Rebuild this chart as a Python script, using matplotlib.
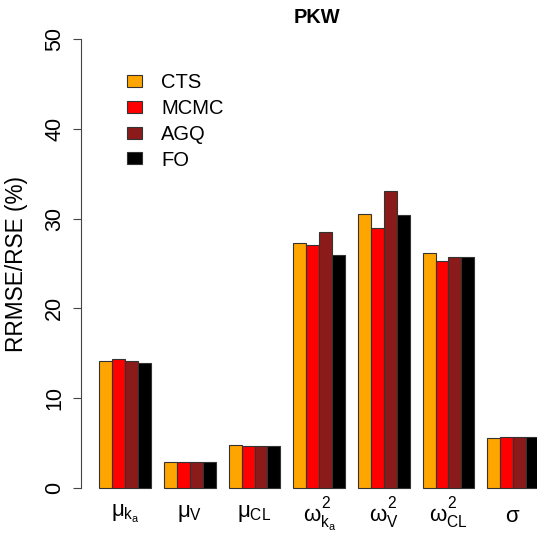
import matplotlib
matplotlib.use("Agg")
import matplotlib.pyplot as plt
import matplotlib.transforms as mtransforms
import numpy as np

try:
    import matplotlib._mathtext as _mt
    _mt.FontConstantsBase.sup1 = 1.15
except Exception:
    pass

plt.rcParams['font.family'] = ['Liberation Sans', 'DejaVu Sans']
plt.rcParams['mathtext.fontset'] = 'custom'
plt.rcParams['mathtext.rm'] = 'Liberation Sans'
plt.rcParams['mathtext.it'] = 'Liberation Sans'
plt.rcParams['mathtext.bf'] = 'Liberation Sans:bold'

# ---- data ----
parameters = [r'$\mu_{k_a}$', r'$\mu_V$', r'$\mu_{CL}$',
              r'$\omega_{k_a}^{2}$', r'$\omega_V^{2}$', r'$\omega_{CL}^{2}$', r'$\sigma$']
methods = ['CTS', 'MCMC', 'AGQ', 'FO']
cts  = [14.1, 2.85, 4.8, 27.3, 30.5, 26.2, 5.55]
mcmc = [14.35, 2.85, 4.7, 27.1, 29.0, 25.3, 5.65]
agq  = [14.1, 2.85, 4.7, 28.5, 33.1, 25.7, 5.65]
fo   = [13.9, 2.85, 4.7, 25.9, 30.4, 25.7, 5.65]
yticks = [0, 10, 20, 30, 40, 50]
title = 'PKW'
ylabel = 'RRMSE/RSE (%)'

# ---- style ----
colors = ['#FFA500', '#FF0000', '#8B1A1A', '#000000']
label_baseline_px = [517, 517, 517, 522, 522, 522, 521.5]

W, H = 537, 533
fig = plt.figure(figsize=(W / 100, H / 100), dpi=100)
ax = fig.add_axes([81 / W, (H - 506) / H, (W - 81) / W, (506 - 21) / H])

series = [cts, mcmc, agq, fo]
n_groups = len(parameters)
group_start = 1 + 5 * np.arange(n_groups)
handles = []
for j, vals in enumerate(series):
    bc = ax.bar(group_start + j, vals, width=1.0, align='edge',
                color=colors[j], edgecolor='#333333', linewidth=0.8,
                label=methods[j])
    handles.append(bc)

ax.set_xlim(-0.42, 34.85)
ax.set_ylim(-2, 52)

for s in ['top', 'right', 'bottom']:
    ax.spines[s].set_visible(False)
ax.spines['left'].set_bounds(0, 50)
ax.spines['left'].set_color('#444444')
ax.spines['left'].set_linewidth(0.8)

ax.set_xticks([])
ax.set_yticks(yticks)
ax.set_yticklabels([str(t) for t in yticks], rotation=90, va='center',
                   fontsize=15.5)
ax.tick_params(axis='y', length=5.8, width=0.8, color='#444444', pad=5.5)

fig.text(17 / W, 1 - 264 / H, ylabel, rotation=90, ha='center', va='center',
         fontsize=16.3)

trans = mtransforms.blended_transform_factory(ax.transData, fig.transFigure)
centers = group_start + 2
for c, lab, bpx in zip(centers, parameters, label_baseline_px):
    ax.text(c, 1 - bpx / H, lab, transform=trans, ha='center',
            va='baseline', fontsize=16)

fig.text(317 / W, 1 - 17.5 / H, title, ha='center', va='center',
         fontsize=14.4, fontweight='bold')

leg = ax.legend(handles=handles, labels=methods, loc='upper left',
                bbox_to_anchor=(127 / W, 1 - 73 / H),
                bbox_transform=fig.transFigure, frameon=False,
                fontsize=14.5, handlelength=0.75, handleheight=0.55,
                handletextpad=0.95, labelspacing=0.34, borderpad=0,
                borderaxespad=0)

fig.savefig('out.png', dpi=100)
